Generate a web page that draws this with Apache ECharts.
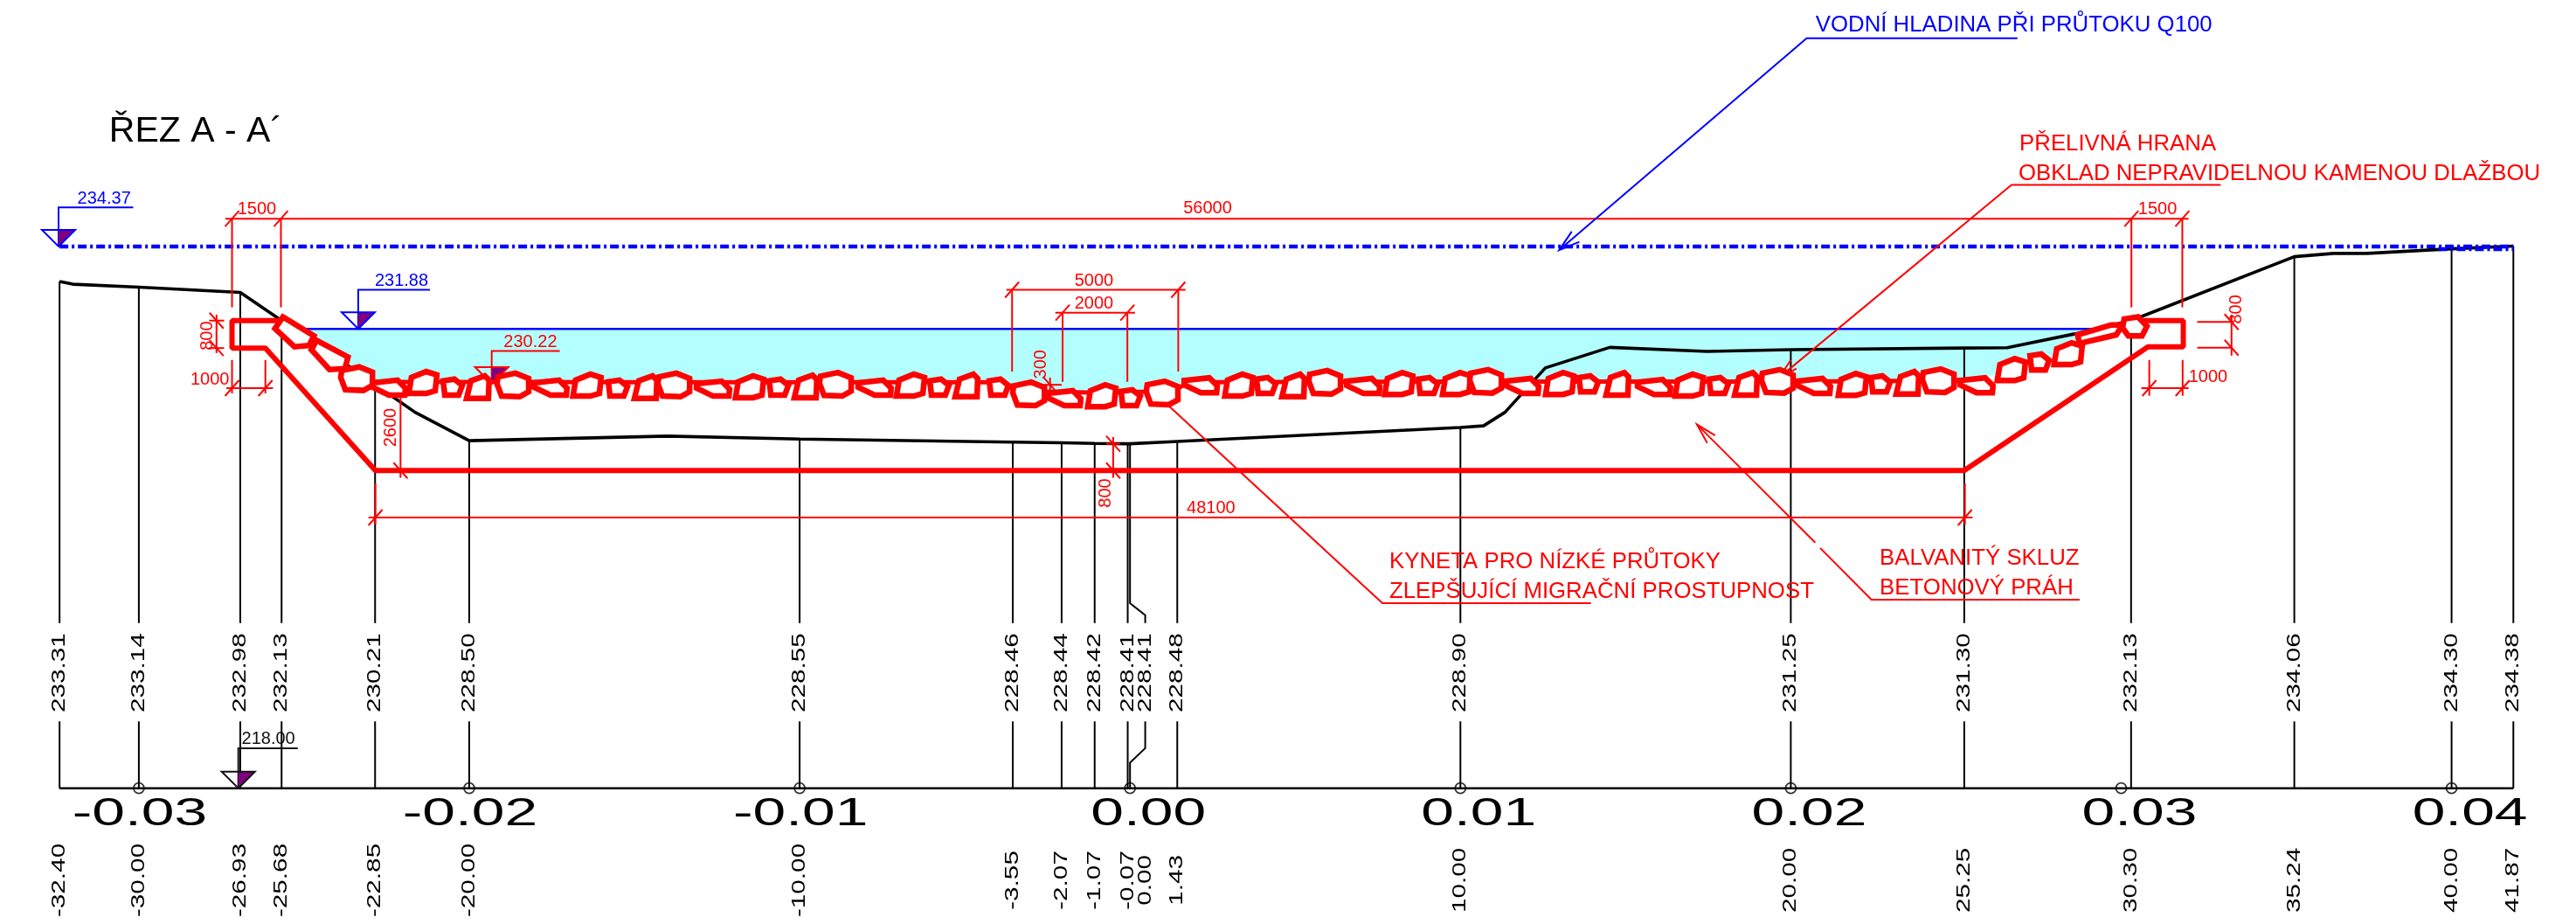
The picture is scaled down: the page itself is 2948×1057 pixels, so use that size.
<!DOCTYPE html>
<html><head><meta charset="utf-8">
<style>html,body{margin:0;padding:0;background:#fff}#c{width:2948px;height:1057px}</style>
<script src="https://cdn.jsdelivr.net/npm/echarts@6/dist/echarts.min.js"></script>
</head><body><div id="c"></div>
<script>
// ---------- data (stations in metres, elevations in m n.m.) ----------
const stations = [-32.40,-30.00,-26.93,-25.68,-22.85,-20.00,-10.00,-3.55,-2.07,-1.07,-0.07,0.00,1.43,10.00,20.00,25.25,30.30,35.24,40.00,41.87];
const elevations = [233.31,233.14,232.98,232.13,230.21,228.50,228.55,228.46,228.44,228.42,228.41,228.41,228.48,228.90,231.25,231.30,232.13,234.06,234.30,234.38];
const tickStations = [-30,-20,-10,0,10,20,30,40];
const tickLabels = ['-0.03','-0.02','-0.01','0.00','0.01','0.02','0.03','0.04'];
const ground = [[-32.40,233.31],[-32.00,233.23],[-30.00,233.14],[-26.93,232.98],[-25.68,232.13],[-22.85,230.21],[-22.27,229.80],[-21.64,229.36],[-20.00,228.50],[-14.00,228.64],[-10.00,228.55],[-3.55,228.46],[-2.07,228.44],[-1.07,228.42],[-0.07,228.41],[0.00,228.41],[1.43,228.48],[10.00,228.90],[10.70,228.95],[11.35,229.36],[12.57,230.70],[14.52,231.32],[17.47,231.20],[20.00,231.25],[25.25,231.30],[26.55,231.31],[28.60,231.73],[30.30,232.13],[35.24,234.06],[36.43,234.16],[37.44,234.16],[40.00,234.30],[41.87,234.38]];
const concrete = [[-25.70,232.13],[-27.18,232.13],[-27.18,231.30],[-26.17,231.30],[-22.84,227.60],[25.25,227.60],[30.81,231.34],[31.88,231.34],[31.88,232.13],[30.52,232.13]];
const q100Line = [[-32.40,234.37],[41.87,234.37]];
const q100Tail = [[39.60,234.29],[41.87,234.29]];
const waterTop = [[-25.00,231.88],[29.33,231.88]];
const bedLine = [[-23.40,230.35],[-22.90,230.28],[-15.00,230.27],[-4.00,230.27],[-3.40,230.00],[-0.90,229.95],[1.30,230.00],[1.80,230.27],[10.00,230.29],[20.00,230.29],[25.50,230.32]];
const waterEdge = [[26.65,230.60],[27.50,230.85],[28.37,231.10],[28.70,231.55],[29.33,231.88]];
const waterSlope = [[-25.00,231.88],[-24.55,231.25],[-23.90,230.85]];
const rockShapes = {
  W:[[-0.50,0.13],[0.26,0.21],[0.50,-0.03],[0.48,-0.24],[0,-0.24],[-0.50,0]],
  R:[[-0.32,0.16],[0.13,0.34],[0.45,0.24],[0.40,-0.24],[0.13,-0.32],[-0.40,-0.32]],
  S:[[-0.26,0.19],[0.08,0.24],[0.32,0.05],[0.21,-0.24],[-0.21,-0.24]],
  B:[[-0.45,0.26],[0.08,0.37],[0.48,0.21],[0.48,-0.19],[0.21,-0.34],[-0.34,-0.32],[-0.48,0.05]],
  D:[[-0.21,0.19],[0.21,0.34],[0.34,0.21],[0.32,-0.34],[-0.34,-0.34]]
};
const rocks = [['B',-23.41,230.36],['W',-22.43,230.12],['R',-21.43,230.25],['S',-20.53,230.12],['D',-19.74,230.12],['B',-18.68,230.17],['W',-17.54,230.12],['R',-16.46,230.17],['S',-15.53,230.09],['D',-14.66,230.12],['B',-13.81,230.17],['W',-12.62,230.09],['R',-11.54,230.12],['S',-10.66,230.12],['D',-9.82,230.14],['B',-8.92,230.19],['W',-7.73,230.12],['R',-6.67,230.17],['S',-5.80,230.12],['D',-4.95,230.17],['S',-4.00,230.12],['B',-3.07,229.90],['W',-1.99,229.80],['R',-0.88,229.85],['S',-0.01,229.80],['B',0.97,229.93],['W',2.14,230.19],['R',3.27,230.17],['S',4.09,230.17],['D',4.94,230.17],['B',5.89,230.25],['W',7.06,230.17],['R',8.11,230.22],['S',8.99,230.17],['R',9.86,230.22],['B',10.76,230.28],['W',11.87,230.17],['R',12.98,230.22],['S',13.85,230.22],['D',14.75,230.22],['W',15.86,230.14],['R',16.90,230.17],['S',17.79,230.17],['D',18.64,230.22],['B',19.59,230.28],['W',20.70,230.17],['R',21.84,230.19],['S',22.69,230.22],['D',23.53,230.25],['B',24.46,230.30],['W',25.62,230.19],['R',26.65,230.64],['S',27.50,230.88],['R',28.37,231.12]];
const slopeRocks = [
  [[-25.64,232.24],[-24.70,231.67],[-24.85,231.38],[-25.29,231.34],[-25.88,231.89]],
  [[-24.62,231.53],[-23.67,231.03],[-23.76,230.68],[-24.23,230.65],[-24.78,231.25]],
  [[28.68,231.70],[29.70,232.00],[30.04,232.00],[29.85,231.70],[28.74,231.44]],
  [[30.09,232.18],[30.51,232.24],[30.78,231.96],[30.63,231.67],[30.22,231.67],[30.04,231.91]]
];
const dimSegments = [[-27.38,235.21,32.04,235.21],[-27.18,235.21,-27.18,232.53],[-25.70,235.21,-25.70,232.53],[30.31,235.21,30.31,232.53],[31.85,235.21,31.85,232.53],
  [-27.65,232.31,-27.65,231.15],[-27.87,232.13,-27.42,232.13],[-27.87,231.30,-27.42,231.30],
  [-27.35,230.09,-25.94,230.09],[-27.18,230.94,-27.18,229.93],[-26.17,230.94,-26.17,229.93],
  [-22.08,229.80,-22.08,227.38],
  [-23.05,226.18,25.50,226.18],[-22.84,227.21,-22.84,225.97],[25.27,227.21,25.27,225.97],
  [-3.74,233.06,1.68,233.06],[-3.57,233.06,-3.57,230.59],[1.46,233.06,1.46,230.59],
  [-2.26,232.37,0.15,232.37],[-2.04,232.37,-2.04,230.28],[-0.08,232.37,-0.08,230.28],
  [-2.42,230.41,-2.42,229.75],[-2.78,230.19,-2.07,230.19],
  [-0.51,228.61,-0.51,227.38],[-0.72,228.41,-0.30,228.41],
  [30.61,230.09,32.04,230.09],[30.85,230.94,30.85,229.86],[31.86,230.94,31.86,229.86],
  [33.34,232.31,33.34,231.07],[32.30,232.09,33.37,232.09],[32.30,231.31,33.37,231.31]];
const dimTicksH = [[-27.18,235.21],[-25.70,235.21],[30.31,235.21],[31.85,235.21],[-27.18,230.09],[-26.17,230.09],[-22.84,226.18],[25.27,226.18],[-3.57,233.06],[1.46,233.06],[-2.04,232.37],[-0.08,232.37],[30.85,230.09],[31.86,230.09]];
const dimTicksV = [[-27.65,232.13],[-27.65,231.30],[-22.08,227.60],[-2.42,230.19],[-2.42,229.85],[-0.51,228.41],[-0.51,227.60],[33.34,232.09],[33.34,231.31]];
const dimLabels = [['1500',-26.43,235.48,0],['56000',2.35,235.51,0],['1500',31.10,235.48,0],['800',-27.91,231.67,1],['1000',-27.85,230.33,0],['2600',-22.37,228.90,1],['48100',2.45,226.45,0],['5000',-1.09,233.32,0],['2000',-1.09,232.63,0],['300',-2.68,230.81,1],['800',-0.74,226.92,1],['1000',32.63,230.43,0],['800',33.48,232.47,1]];
const levelMarks = [[-32.43,234.37,'#0000ff'],[-23.36,231.88,'#0000ff'],[-19.32,230.22,'#ff0000'],[-26.99,218.00,'#111111']];
const levelLeaders = [[[-32.43,234.37],[-32.43,235.55],[-30.17,235.55]],[[-23.36,231.88],[-23.36,233.06],[-21.19,233.06]],[[-19.32,230.22],[-19.32,231.21],[-17.26,231.21]],[[-26.99,218.00],[-26.99,219.21],[-25.19,219.21]]];
const levelLabels = [['234.37',-31.05,235.81,'#0000ff'],['231.88',-22.05,233.32,'#0000ff'],['230.22',-18.15,231.47,'#ff0000'],['218.00',-26.08,219.48,'#111111']];
const blueLeaders = [[[26.86,240.66],[20.48,240.66],[12.99,234.26]],[[13.37,234.82],[12.99,234.26],[13.60,234.51]]];
const redLeaders = [[[33.01,236.23],[26.68,236.23],[19.65,230.41]],[[20.00,230.94],[19.65,230.41],[20.17,230.68]],
  [[13.95,223.59],[7.64,223.59],[1.20,229.53]],
  [[28.74,223.70],[22.44,223.70],[20.89,225.26]],[[20.74,225.42],[17.16,228.99]],[[17.71,228.66],[17.16,228.99],[17.47,228.43]]];
const notes = [['VODNÍ HLADINA PŘI PRŮTOKU Q100',20.75,241.05,'#0000ff'],['PŘELIVNÁ HRANA',26.92,237.45,'#ff0000'],['OBKLAD NEPRAVIDELNOU KAMENOU DLAŽBOU',26.89,236.56,'#ff0000'],['KYNETA PRO NÍZKÉ PRŮTOKY',7.85,224.83,'#ff0000'],['ZLEPŠUJÍCÍ MIGRAČNÍ PROSTUPNOST',7.85,223.94,'#ff0000'],['BALVANITÝ SKLUZ',22.69,224.93,'#ff0000'],['BETONOVÝ PRÁH',22.69,224.04,'#ff0000']];
const titleText = ['ŘEZ A - A´',-30.90,237.83];
const labelBand = [220.02,222.99];       // gap in the station lines, where elevation labels sit
const elevLabelY = 221.49, stationLabelY = 215.22, tickLabelY = 217.21;
const zeroOffset = 0.46, baseElev = 218;

// ---------- helpers ----------
const FONT = '"Liberation Sans", Arial, sans-serif';
const chart = echarts.init(document.getElementById('c'));
const base = {clip:false, silent:true, animation:false};
const polyline = (data, color, width, z, type) => ({type:'line', data, symbol:'none', z, clip:false, silent:true, animation:false, lineStyle:{color, width, type:type||'solid'}});
function custom(items, z, render){
  return Object.assign({type:'custom', z, data:items.map((_,i)=>[i,0]), encode:{x:-1,y:-1}, renderItem:(p,api)=>render(items[p.dataIndex],api)}, base);
}
const pts = (arr,api)=>arr.map(a=>api.coord(a));
function lineEl(points,color,width){return {type:'polyline',shape:{points},style:{stroke:color,lineWidth:width,fill:null}};}
function textEl(text,pos,size,color,opt){opt=opt||{};
  return {type:'text',x:pos[0]+(opt.dx||0),y:pos[1],rotation:opt.rot?Math.PI/2:0,scaleX:opt.k||1,scaleY:1,
    style:{text,x:0,y:0,font:size+'px '+FONT,fill:color,align:opt.align||'center',verticalAlign:'middle'}};}

const stationLines = stations.map((s,i)=> s===0
  ? [[0,baseElev],[0,218.77],[zeroOffset,219.21],[zeroOffset,labelBand[0]]]
  : [[s,baseElev],[s,labelBand[0]]]).concat(stations.map((s,i)=> s===0
  ? [[zeroOffset,labelBand[1]],[zeroOffset,223.23],[0,223.59],[0,elevations[i]]]
  : [[s,labelBand[1]],[s,elevations[i]]]));
const rockPolys = rocks.map(r=>rockShapes[r[0]].map(o=>[r[1]+o[0],r[2]+o[1]])).concat(slopeRocks);
const waterPoly = waterTop.slice(0,2).concat(waterEdge.slice().reverse(), bedLine.slice().reverse(), waterSlope.slice().reverse());
const labelX = s => s===0 ? zeroOffset : s;

const series = [
  custom([waterPoly],1,(w,api)=>({type:'polygon',shape:{points:pts(w,api)},style:{fill:'#b3ffff'}})),
  polyline(waterTop,'#0000ff',2.4,2),
  custom(stationLines,3,(l,api)=>lineEl(pts(l,api),'#000000',2)),
  polyline([[stations[0],baseElev],[stations[stations.length-1],baseElev]],'#000000',2.6,3),
  {type:'scatter',data:tickStations.map(s=>[s,baseElev]),symbol:'circle',symbolSize:12,z:4,silent:true,animation:false,clip:false,
   itemStyle:{color:'rgba(0,0,0,0)',borderColor:'#000000',borderWidth:1.8}},
  polyline(ground,'#000000',3.6,4),
  polyline(q100Line,'#0000ff',4.5,5,[10,4,3,4]),
  polyline(q100Tail,'#0000ff',4.5,5,[10,4,3,4]),
  polyline(concrete,'#ff0000',6,5),
  custom(dimSegments,6,(d,api)=>lineEl(pts([[d[0],d[1]],[d[2],d[3]]],api),'#ff0000',2)),
  custom(dimTicksH,6,(d,api)=>{const c=api.coord(d);return lineEl([[c[0]-8,c[1]+9],[c[0]+8,c[1]-9]],'#ff0000',2);}),
  custom(dimTicksV,6,(d,api)=>{const c=api.coord(d);return lineEl([[c[0]-8,c[1]-9],[c[0]+8,c[1]+9]],'#ff0000',2);}),
  custom(levelLeaders.map((l,i)=>[l,levelMarks[i][2]]),6,(l,api)=>lineEl(pts(l[0],api),l[1],2)),
  custom(levelMarks,7,(m,api)=>{const c=api.coord(m);return {type:'group',children:[
    {type:'polygon',shape:{points:[[c[0],c[1]],[c[0]+19,c[1]-19],[c[0],c[1]-19]]},style:{fill:'#800080'}},
    {type:'polygon',shape:{points:[[c[0],c[1]],[c[0]+19,c[1]-19],[c[0]-19,c[1]-19]]},style:{fill:null,stroke:m[2],lineWidth:2}}]};}),
  custom(blueLeaders,6,(l,api)=>lineEl(pts(l,api),'#0000ff',2)),
  custom(redLeaders,6,(l,api)=>lineEl(pts(l,api),'#ff0000',2)),
  polyline(bedLine,'#ff0000',5,8),
  custom(rockPolys,9,(r,api)=>({type:'polygon',shape:{points:pts(r,api)},style:{fill:'#ffffff',stroke:'#ff0000',lineWidth:6.5}})),
  custom(dimLabels,10,(t,api)=>textEl(t[0],api.coord([t[1],t[2]]),20,'#ff0000',{rot:t[3]})),
  custom(levelLabels,10,(t,api)=>textEl(t[0],api.coord([t[1],t[2]]),20,t[3])),
  custom(notes,10,(t,api)=>textEl(t[0],api.coord([t[1],t[2]]),25.8,t[3],{align:'left'})),
  custom([titleText],10,(t,api)=>textEl(t[0],api.coord([t[1],t[2]]),41,'#000000',{align:'left'})),
  custom(stations.map((s,i)=>[elevations[i].toFixed(2),labelX(s)]),10,(t,api)=>textEl(t[0],api.coord([t[1],elevLabelY]),22,'#000000',{rot:1,k:1.35})),
  custom(stations.map(s=>[s.toFixed(2),labelX(s)]),10,(t,api)=>textEl(t[0],api.coord([t[1],stationLabelY]),22,'#000000',{rot:1,k:1.35})),
  custom(tickStations.map((s,i)=>[tickLabels[i],s]),10,(t,api)=>textEl(t[0],api.coord([t[1],tickLabelY]),44,'#000000',{k:1.54,dx:t[1]<0?1:21}))
];

chart.setOption({
  backgroundColor:'#ffffff', animation:false,
  grid:{left:1293.2-40*37.81,width:90*37.81,top:901.7-24*37.86,height:28*37.86,containLabel:false,outerBoundsMode:'none'},
  xAxis:{type:'value',min:-40,max:50,interval:10,axisLine:{show:false},axisTick:{show:false},axisLabel:{show:false},splitLine:{show:false}},
  yAxis:{type:'value',min:214,max:242,interval:2,axisLine:{show:false},axisTick:{show:false},axisLabel:{show:false},splitLine:{show:false}},
  series
});
</script></body></html>
